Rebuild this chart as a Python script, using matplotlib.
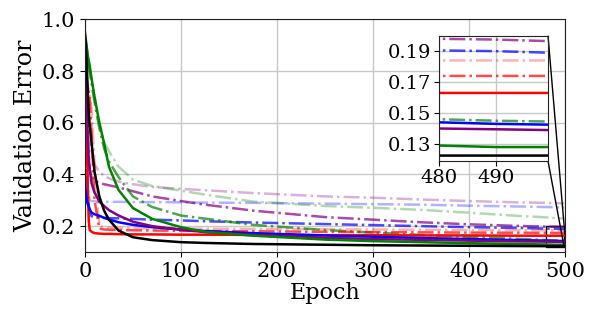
import matplotlib

matplotlib.use("Agg")
import matplotlib.pyplot as plt
from mpl_toolkits.axes_grid1.inset_locator import mark_inset

plt.rcParams["font.family"] = ["DejaVu Serif"]
plt.rcParams["font.size"] = 15

# Эпохи, в которых снимались значения с картинки.
EPOCHS = [0, 1, 2, 3, 4, 5, 7, 10, 15, 20, 25, 35, 50, 70, 100, 125, 175,
          250, 300, 350, 400, 450, 480, 490, 499]

RED = [0.90, 0.75, 0.55, 0.35, 0.22, 0.185, 0.178, 0.173, 0.171, 0.170, 0.170,
       0.169, 0.168, 0.168, 0.167, 0.167, 0.166, 0.165, 0.165, 0.164, 0.164,
       0.163, 0.163, 0.163, 0.163]
RED_DD = [0.80, 0.78, 0.76, 0.74, 0.72, 0.70, 0.55, 0.30, 0.19, 0.187, 0.186,
          0.185, 0.184, 0.183, 0.182, 0.181, 0.180, 0.178, 0.177, 0.176, 0.175,
          0.1745, 0.174, 0.174, 0.174]
RED_LT = [0.78, 0.77, 0.75, 0.74, 0.73, 0.72, 0.65, 0.45, 0.20, 0.195, 0.194,
          0.193, 0.192, 0.191, 0.190, 0.190, 0.189, 0.188, 0.187, 0.186, 0.185,
          0.1845, 0.184, 0.184, 0.184]

BLUE = [0.36, 0.33, 0.30, 0.285, 0.275, 0.265, 0.252, 0.246, 0.24, 0.232, 0.226,
        0.215, 0.205, 0.196, 0.187, 0.181, 0.173, 0.164, 0.159, 0.154, 0.15,
        0.146, 0.144, 0.143, 0.1425]
BLUE_DD = [0.60, 0.50, 0.40, 0.33, 0.28, 0.255, 0.238, 0.235, 0.233, 0.232,
           0.231, 0.23, 0.228, 0.225, 0.222, 0.219, 0.214, 0.208, 0.204, 0.2,
           0.196, 0.193, 0.1905, 0.19, 0.189]
BLUE_LT = [0.62, 0.52, 0.42, 0.36, 0.32, 0.30, 0.297, 0.296, 0.295, 0.295,
           0.294, 0.294, 0.293, 0.293, 0.292, 0.291, 0.29, 0.287, 0.285, 0.283,
           0.279, 0.276, 0.274, 0.273, 0.272]

PURPLE = [0.90, 0.80, 0.68, 0.53, 0.46, 0.42, 0.365, 0.33, 0.295, 0.278, 0.262,
          0.241, 0.217, 0.2, 0.186, 0.177, 0.166, 0.155, 0.15, 0.147, 0.144,
          0.141, 0.14, 0.1395, 0.139]
PURPLE_DD = [0.85, 0.75, 0.65, 0.55, 0.47, 0.42, 0.385, 0.375, 0.367, 0.362,
             0.358, 0.35, 0.335, 0.315, 0.297, 0.283, 0.26, 0.235, 0.225, 0.215,
             0.207, 0.201, 0.198, 0.1975, 0.1965]
PURPLE_LT = [0.88, 0.80, 0.72, 0.65, 0.58, 0.53, 0.48, 0.44, 0.41, 0.395, 0.385,
             0.372, 0.362, 0.352, 0.344, 0.339, 0.328, 0.315, 0.31, 0.303,
             0.297, 0.292, 0.29, 0.289, 0.288]

GREEN = [0.94, 0.92, 0.89, 0.86, 0.84, 0.82, 0.77, 0.70, 0.60, 0.52, 0.43,
         0.34, 0.27, 0.228, 0.196, 0.178, 0.163, 0.148, 0.142, 0.138, 0.134,
         0.131, 0.129, 0.128, 0.128]
GREEN_DD = [0.93, 0.91, 0.88, 0.85, 0.83, 0.80, 0.75, 0.68, 0.58, 0.50, 0.45,
            0.39, 0.315, 0.274, 0.241, 0.229, 0.205, 0.185, 0.175, 0.166,
            0.158, 0.151, 0.146, 0.145, 0.1445]
GREEN_LT = [0.93, 0.91, 0.88, 0.85, 0.83, 0.80, 0.76, 0.70, 0.60, 0.525, 0.49,
            0.43, 0.38, 0.355, 0.337, 0.322, 0.295, 0.278, 0.271, 0.263, 0.252,
            0.24, 0.234, 0.231, 0.229]

BLACK = [0.95, 0.90, 0.82, 0.72, 0.64, 0.59, 0.52, 0.41, 0.315, 0.26, 0.225,
         0.183, 0.157, 0.146, 0.138, 0.135, 0.131, 0.128, 0.126, 0.125, 0.124,
         0.123, 0.1225, 0.1225, 0.1225]

# (значения, цвет, стиль, прозрачность) — светлые штрихпунктиры рисуем первыми
SERIES = [
    (PURPLE_LT, "purple", "-.", 0.3), (BLUE_LT, "blue", "-.", 0.3),
    (GREEN_LT, "green", "-.", 0.3), (RED_LT, "red", "-.", 0.3),
    (PURPLE_DD, "purple", "-.", 0.7), (BLUE_DD, "blue", "-.", 0.7),
    (GREEN_DD, "green", "-.", 0.7), (RED_DD, "red", "-.", 0.7),
    (RED, "red", "-", 1.0), (BLUE, "blue", "-", 1.0),
    (PURPLE, "purple", "-", 1.0), (GREEN, "green", "-", 1.0),
    (BLACK, "black", "-", 1.0),
]

fig = plt.figure(figsize=(5.98, 3.14), dpi=100)
ax = fig.add_axes([0.142, 0.1975, 0.803, 0.741])
axins = fig.add_axes([0.7336, 0.4873, 0.1828, 0.399])

for a in (ax, axins):
    for vals, color, ls, alpha in SERIES:
        a.plot(EPOCHS, vals, color=color, linestyle=ls, alpha=alpha,
               linewidth=1.8)
    a.grid(True, color="#c8c8c8", linewidth=1.0)
    a.set_axisbelow(True)
    for spine in a.spines.values():
        spine.set_color("#222222")

ax.set_xlim(0, 500)
ax.set_ylim(0.1, 1.0)
ax.set_xticks(range(0, 501, 100))
ax.set_yticks([0.2, 0.4, 0.6, 0.8, 1.0])
ax.set_xlabel("Epoch", fontsize=16, labelpad=1)
ax.set_ylabel("Validation Error", fontsize=17, labelpad=3)

axins.set_facecolor("white")
axins.set_xlim(480, 499)
axins.set_ylim(0.119, 0.2)
axins.set_xticks([480, 490])
axins.set_yticks([0.13, 0.15, 0.17, 0.19])
axins.tick_params(labelsize=14, pad=2)

mark_inset(ax, axins, loc1=1, loc2=4, fc="none", ec="black", lw=1.0)

fig.savefig("out.png", dpi=100)
